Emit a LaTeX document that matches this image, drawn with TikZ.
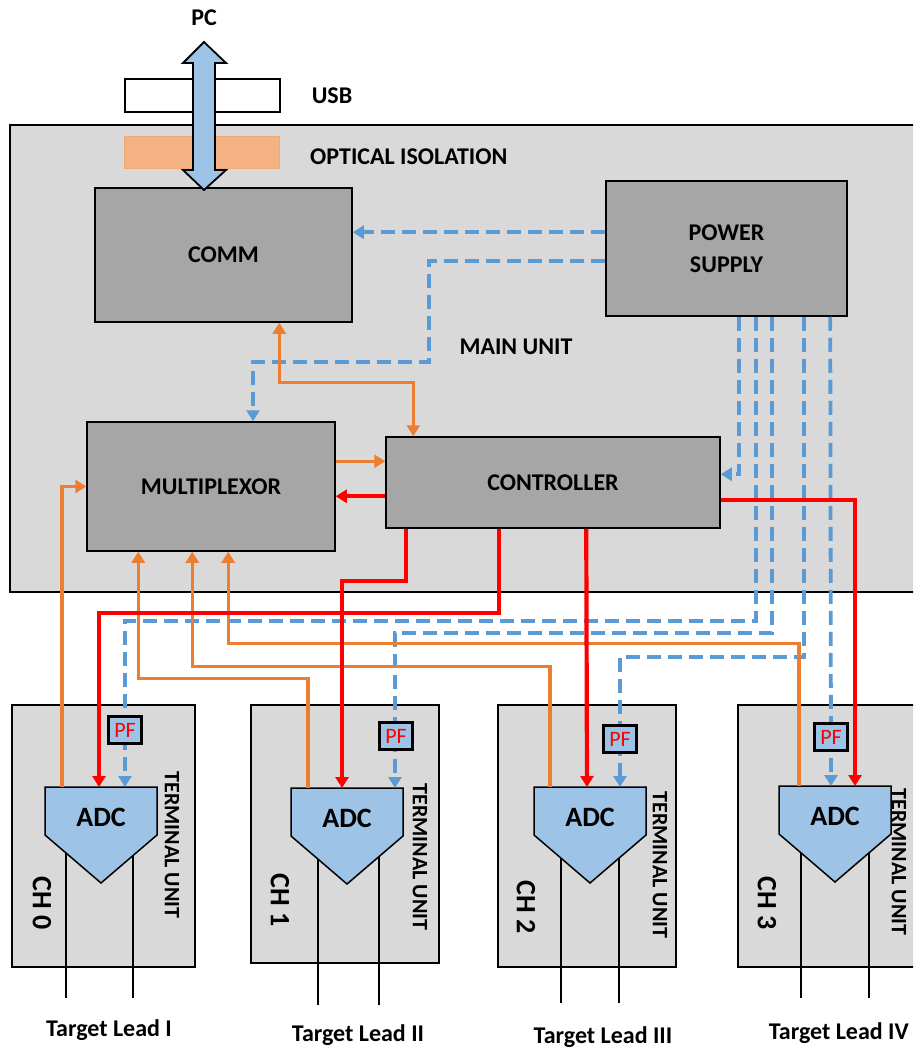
\documentclass[tikz,border=0pt]{standalone}
\usepackage{fontspec}
\setmainfont{Carlito}
\usetikzlibrary{arrows.meta,calc}
\definecolor{unitgray}{RGB}{217,217,217}
\definecolor{blockgray}{RGB}{166,166,166}
\definecolor{adcblue}{RGB}{157,195,230}
\definecolor{pwrblue}{RGB}{91,155,213}
\definecolor{datorange}{RGB}{237,125,49}
\definecolor{isopeach}{RGB}{244,177,131}

\begin{document}
\begin{tikzpicture}[x=1pt, y=-1pt,
    >={Triangle[length=11pt,width=13pt]},
    unit/.style={rectangle, draw=black, line width=2.8pt, fill=unitgray, inner sep=0pt},
    block/.style={rectangle, draw=black, line width=1.5pt, fill=blockgray, align=center, inner sep=0pt, font=\fontsize{24}{32}\selectfont\bfseries},
    lbl/.style={font=\fontsize{24}{28}\selectfont\bfseries, inner sep=0pt},
    adcbox/.style={minimum width=112pt, minimum height=60pt, inner sep=0pt, font=\fontsize{28}{32}\selectfont\bfseries},
    adcline/.style={draw=black, line width=1.5pt, fill=adcblue},
    pfbox/.style={rectangle, draw=black, line width=2.6pt, fill=adcblue, text=red, minimum width=33pt, minimum height=27pt, inner sep=0pt, font=\fontsize{22}{24}\selectfont},
    chlbl/.style={rotate=-90, font=\fontsize{28}{32}\selectfont\bfseries, inner sep=0pt},
    tulbl/.style={rotate=-90, font=\fontsize{22}{26}\selectfont\bfseries, inner sep=0pt},
    lead/.style={draw=black, line width=2.4pt},
    pwr/.style={->, draw=pwrblue, line width=3.8pt, dash pattern=on 14pt off 7pt},
    dat/.style={->, draw=datorange, line width=3.2pt},
    ctl/.style={->, draw=red, line width=4.2pt}
]
    \useasboundingbox (0,0) rectangle (913,1048);
    \clip (0,0) rectangle (913,1048);

    \node[unit, minimum width=915pt, minimum height=467pt] (main) at (467.5,358.5) {};
    \node[rectangle, draw=black, line width=1.8pt, fill=white, minimum width=155pt, minimum height=33pt] (usb) at (202.5,95.5) {};
    \node[rectangle, draw=isopeach!80!datorange, line width=1pt, fill=isopeach, minimum width=155pt, minimum height=32pt] (iso) at (201.5,153) {};
    \node[block, minimum width=257pt, minimum height=134pt] (comm) at (223.5,255) {COMM};
    \node[block, minimum width=241pt, minimum height=135pt] (psu) at (726.5,248.5) {POWER\\SUPPLY};
    \node[block, minimum width=248pt, minimum height=129pt] (mux) at (211,486.5) {MULTIPLEXOR};
    \node[block, minimum width=334pt, minimum height=91pt] (ctrl) at (553,482.5) {CONTROLLER};

    \draw[line width=1.8pt, fill=adcblue] (193,63) -- (183,63) -- (204,42) -- (226,63) -- (215,63) -- (215,170) -- (226,170) -- (204,190) -- (183,170) -- (193,170) -- cycle;

    \node[lbl] (pc) at (204,18) {PC};
    \node[lbl] (usblbl) at (332,96) {USB};
    \node[lbl, anchor=west] (isolbl) at (310,157) {OPTICAL ISOLATION};
    \node[lbl] (mainlbl) at (516,347) {MAIN UNIT};

    \node[unit, minimum width=183pt, minimum height=262pt] (tu0) at (103.5,836) {};
    \node[unit, minimum width=188pt, minimum height=258pt] (tu1) at (345,834) {};
    \node[unit, minimum width=178pt, minimum height=262pt] (tu2) at (587,836) {};
    \node[unit, minimum width=187pt, minimum height=262pt] (tu3) at (831.5,836) {};

    \draw[adcline] (45,787) -- (157,787) -- (157,835) -- (101,883) -- (45,835) -- cycle;
    \draw[adcline] (291,788) -- (403,788) -- (403,836) -- (347,884) -- (291,836) -- cycle;
    \draw[adcline] (534,787) -- (646,787) -- (646,835) -- (590,883) -- (534,835) -- cycle;
    \draw[adcline] (779,786) -- (891,786) -- (891,834) -- (835,882) -- (779,834) -- cycle;
    \node[adcbox, anchor=north] (adc0) at (101,787) {ADC};
    \node[adcbox, anchor=north] (adc1) at (347,788) {ADC};
    \node[adcbox, anchor=north] (adc2) at (590,787) {ADC};
    \node[adcbox, anchor=north] (adc3) at (835,786) {ADC};

    \draw[lead] ($(adc0.north)+(-35,66)$) -- ++(0,145);
    \draw[lead] ($(adc0.north)+(32,69)$) -- ++(0,142);
    \draw[lead] ($(adc1.north)+(-29,71)$) -- ++(0,146);
    \draw[lead] ($(adc1.north)+(32,69)$) -- ++(0,148);
    \draw[lead] ($(adc2.north)+(-29,71)$) -- ++(0,145);
    \draw[lead] ($(adc2.north)+(29,71)$) -- ++(0,145);
    \draw[lead] ($(adc3.north)+(-34,67)$) -- ++(0,145);
    \draw[lead] ($(adc3.north)+(34,67)$) -- ++(0,145);

    \node[chlbl] (ch0) at (42,903) {CH 0};
    \node[chlbl] (ch1) at (280,900) {CH 1};
    \node[chlbl] (ch2) at (526,907) {CH 2};
    \node[chlbl] (ch3) at (767,903) {CH 3};
    \node[tulbl] (term0) at (172,845) {TERMINAL UNIT};
    \node[tulbl] (term1) at (420,857) {TERMINAL UNIT};
    \node[tulbl] (term2) at (660,865) {TERMINAL UNIT};
    \node[tulbl] (term3) at (899,862) {TERMINAL UNIT};

    \node[lbl] (tgt0) at (109,1030) {Target Lead I};
    \node[lbl] (tgt1) at (358,1035) {Target Lead II};
    \node[lbl] (tgt2) at (603,1037) {Target Lead III};
    \node[lbl, anchor=east] (tgt3) at (909,1033) {Target Lead IV};

    \draw[pwr] ($(psu.north west)+(0,52)$) -- ($(comm.north east)+(0,45)$);
    \draw[pwr] ($(psu.north west)+(0,81)$) -- ++(-176,0) |- ($(mux.north)+(42,-59)$) -- ($(mux.north)+(42,0)$);
    \draw[pwr] ($(psu.south west)+(134,0)$) |- ($(ctrl.north east)+(0,38)$);
    \draw[pwr] ($(psu.south west)+(151,0)$) -- ++(0,304) -| ($(adc0.north)+(24,0)$);
    \draw[pwr] ($(psu.south west)+(167,0)$) -- ++(0,316) -| ($(adc1.north)+(48,0)$);
    \draw[pwr] ($(psu.south west)+(199,0)$) -- ++(0,340) -| ($(adc2.north)+(30,0)$);
    \draw[pwr] ($(psu.south west)+(225,0)$) -- ($(adc3.north)+(-4,0)$);

    \draw[dat] ($(mux.north east)+(0,40)$) -- ($(ctrl.north west)+(0,25)$);
    \draw[dat, <->] ($(comm.south west)+(185,0)$) |- ($(ctrl.north west)+(28,-54)$) -- ($(ctrl.north west)+(28,0)$);
    \draw[dat] ($(adc0.north)+(-39,0)$) |- (mux.west);
    \draw[dat] ($(adc1.north)+(-39,0)$) |- ($(mux.south west)+(52,127)$) -- ($(mux.south west)+(52,0)$);
    \draw[dat] ($(adc2.north)+(-40,0)$) |- ($(mux.south west)+(106,115)$) -- ($(mux.south west)+(106,0)$);
    \draw[dat] ($(adc3.north)+(-36,0)$) |- ($(mux.south west)+(142,92)$) -- ($(mux.south west)+(142,0)$);

    \draw[ctl] ($(ctrl.north west)+(0,60)$) -- ($(mux.north east)+(0,75)$);
    \draw[ctl] ($(ctrl.south west)+(21,0)$) -- ++(0,52) -| ($(adc1.north)+(-5,0)$);
    \draw[ctl] ($(ctrl.south west)+(114,0)$) -- ++(0,84) -| ($(adc0.north)+(-2,0)$);
    \draw[ctl] ($(ctrl.south west)+(201,0)$) -- ($(adc2.north)+(-3,0)$);
    \draw[ctl] ($(ctrl.north east)+(0,64)$) -| ($(adc3.north)+(20,0)$);

    \node[pfbox] (pf0) at (125,730) {PF};
    \node[pfbox] (pf1) at (396,736) {PF};
    \node[pfbox] (pf2) at (620,739) {PF};
    \node[pfbox] (pf3) at (831,737) {PF};
\end{tikzpicture}
\end{document}
